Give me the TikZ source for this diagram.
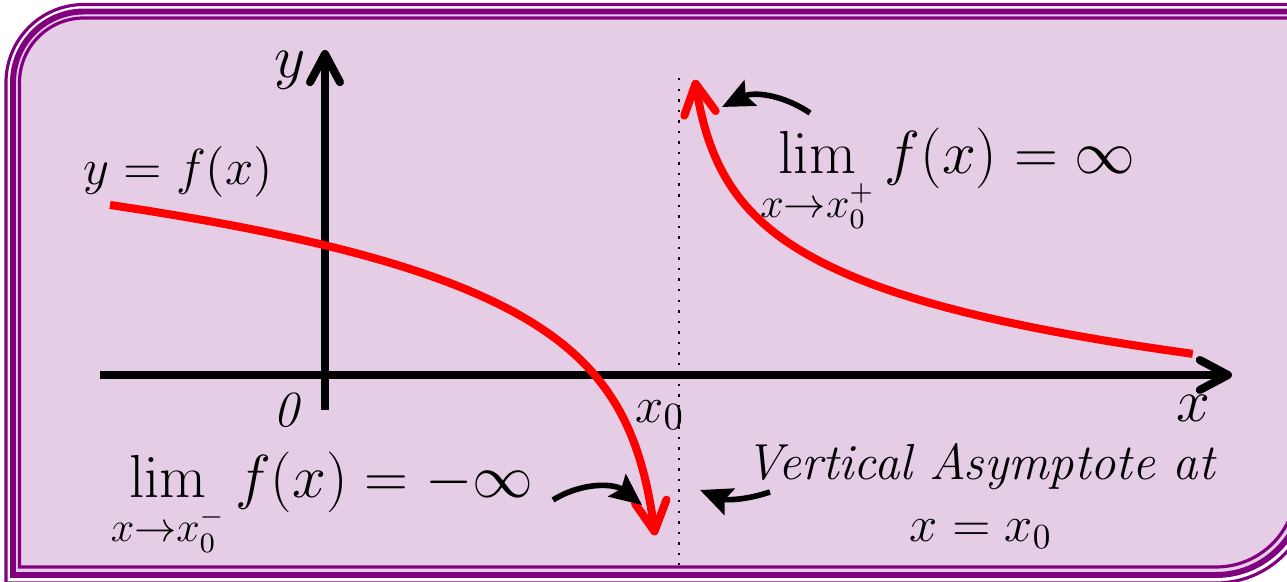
\documentclass[tikz,border=0pt]{standalone}
\usepackage{amsmath, amssymb}
\usepackage{xcolor}
\usepackage{tikz}
\usetikzlibrary{arrows.meta}
\definecolor{framepurple}{HTML}{800080}
\definecolor{panelpurple}{HTML}{E6CDE6}

\begin{document}
\begin{tikzpicture}[x=0.01cm,y=0.01cm,
  axis/.style={line width=2.3pt,-{Straight Barb[round,length=8pt,width=8.5pt]}},
  graph/.style={red,line width=2.3pt,-{Straight Barb[round,length=8.5pt,width=9pt]}},
  pointer/.style={line width=1.6pt,-{Stealth[length=9pt,width=8pt,inset=1.5pt]}},
  biglab/.style={inner sep=0pt,font=\fontsize{17}{20}\selectfont},
  midlab/.style={inner sep=0pt,font=\fontsize{14.4}{17.6}\selectfont},
  limlab/.style={inner sep=0pt,font=\fontsize{16.7}{20}\selectfont}]
  \useasboundingbox (0,0) rectangle (1287,582);
  \fill[white] (0,0) rectangle (1287,582);
  % frame, three lines
  \draw[framepurple,line width=0.9pt] (6,-1) -- (6,499.5)
    arc[start angle=180,end angle=90,radius=78] -- (1312,577.5) -- (1312,95)
    arc[start angle=0,end angle=-90,radius=96] -- cycle;
  \draw[framepurple,line width=1.7pt,fill=panelpurple] (13,7) -- (13,499.5)
    arc[start angle=180,end angle=90,radius=71] -- (1304,570.5) -- (1304,95)
    arc[start angle=0,end angle=-90,radius=88] -- cycle;
  \draw[framepurple,line width=0.9pt] (19.5,15) -- (19.5,499.5)
    arc[start angle=180,end angle=90,radius=64.5] -- (1296,564) -- (1296,95)
    arc[start angle=0,end angle=-90,radius=80] -- cycle;

  % axes
  \coordinate (xstart) at (100,207);
  \coordinate (xend) at (1232,207);
  \coordinate (ystart) at (325,172);
  \coordinate (yend) at (325,532);
  \draw[axis] (xstart) -- (xend);
  \draw[axis] (ystart) -- (yend);
  \node[biglab] (xlab) at (1193,174) {$x$};
  \node[biglab] (ylab) at (290,512) {$y$};
  \node[midlab] (origin) at (287,172) {\textit{0}};
  \node[midlab,font=\fontsize{15.5}{19}\selectfont] (xzero) at (660,167) {$x_0$};

  % asymptote
  \coordinate (asymtop) at (679,504);
  \coordinate (asymbot) at (679,17);
  \draw[line width=0.8pt,dash pattern=on 0.7pt off 2.3pt] (asymtop) -- (asymbot);

  % the two branches
  \draw[graph,domain=6.319:2.303,samples=60,variable=\t]
    plot ({665-exp(\t)},{-143+82.3*\t});
  \draw[graph,domain=6.23:2.303,samples=60,variable=\t]
    plot ({685+exp(\t)},{663-69.8*\t});
  \node[midlab,font=\fontsize{13.6}{16}\selectfont] (curvelab) at (178,410) {$y=f(x)$};

  % limits
  \node[limlab] (limplus) at (948,401) {$\lim\limits_{x\to x_0^+} f(x)=\infty$};
  \node[limlab] (limminus) at (322,77) {$\lim\limits_{x\to x_0^-} f(x)=-\infty$};
  \node[midlab,align=center] (asymlab) at (981,86) {\textit{Vertical Asymptote at}\\$x=x_0$};

  % pointers
  \coordinate (plustail) at (810,469);
  \coordinate (plustip) at (722,475);
  \coordinate (minustail) at (553,82);
  \coordinate (minustip) at (642,77);
  \coordinate (asymtail) at (770,90);
  \coordinate (asymtip) at (700,92);
  \draw[pointer] (plustail) to[bend right=30] (plustip);
  \draw[pointer] (minustail) to[bend left=35] (minustip);
  \draw[pointer] (asymtail) to[bend left=20] (asymtip);
\end{tikzpicture}
\end{document}
